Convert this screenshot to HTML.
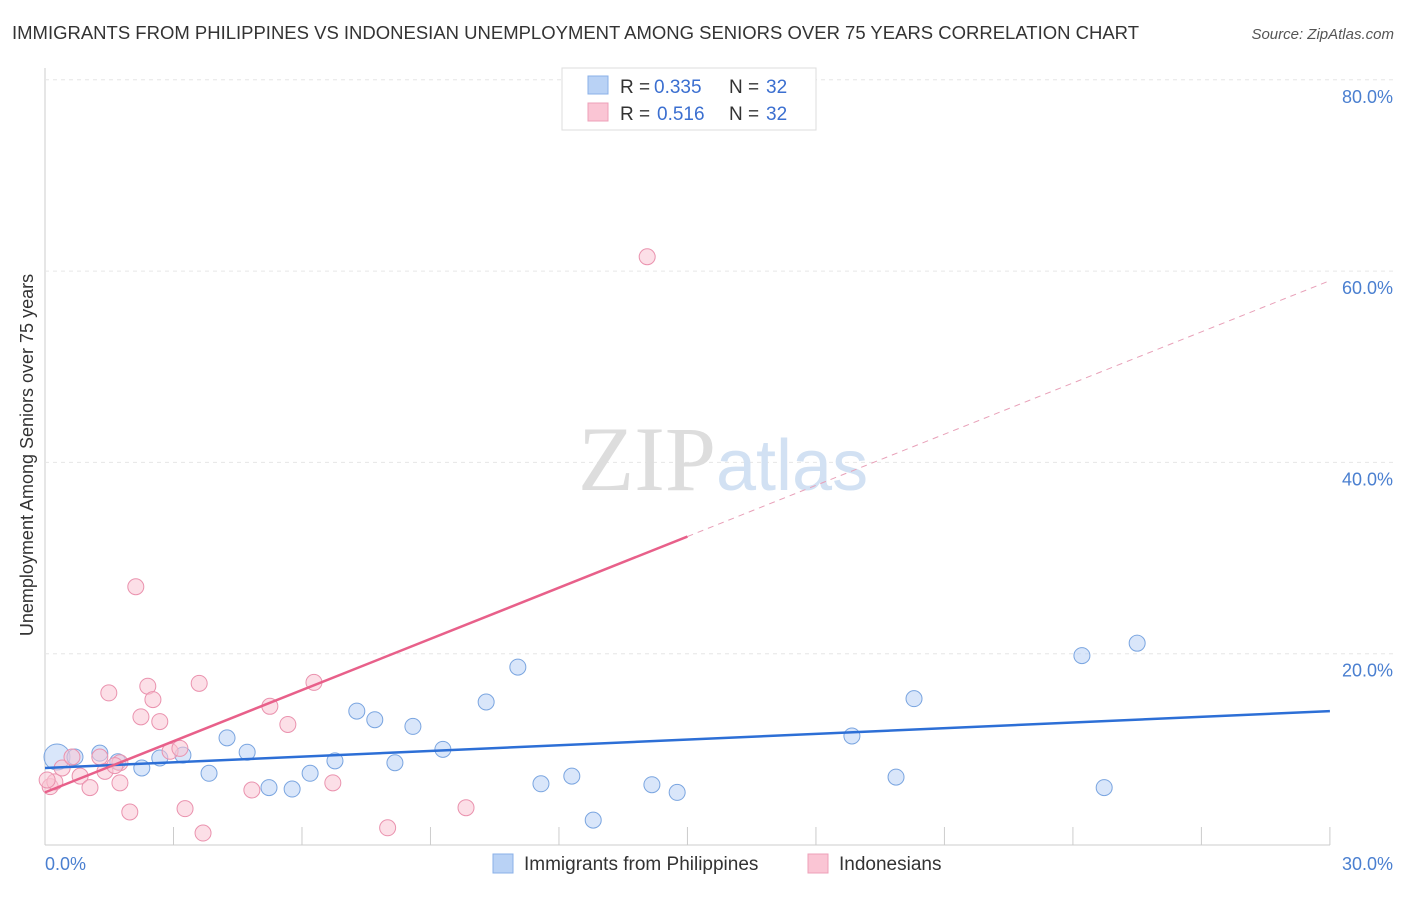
<!DOCTYPE html>
<html><head><meta charset="utf-8"><style>
body{margin:0;background:#fff;font-family:"Liberation Sans",sans-serif;}
</style></head><body>
<svg width="1406" height="892" xmlns="http://www.w3.org/2000/svg" font-family="Liberation Sans, sans-serif">
<text x="12" y="39" font-size="18" fill="#333" textLength="1127" lengthAdjust="spacingAndGlyphs">IMMIGRANTS FROM PHILIPPINES VS INDONESIAN UNEMPLOYMENT AMONG SENIORS OVER 75 YEARS CORRELATION CHART</text>
<text x="1394" y="39" font-size="15" fill="#555" font-style="italic" text-anchor="end">Source: ZipAtlas.com</text>
<g id="grid"></g>
<text x="716" y="490" font-size="92" fill="#ddd" text-anchor="end" font-family="Liberation Serif, serif">ZIP</text>
<text x="716" y="490" font-size="72" fill="#d2e1f3">atlas</text>
<g id="marks"></g>
<text transform="translate(33,455) rotate(-90)" font-size="18" fill="#333" text-anchor="middle">Unemployment Among Seniors over 75 years</text>
<text x="45" y="870" font-size="18" fill="#4a7fd0">0.0%</text>
<text x="1393" y="870" font-size="18" fill="#4a7fd0" text-anchor="end">30.0%</text>
<g>
<rect x="562" y="68" width="254" height="62" fill="#fff" stroke="#ddd"/>
<rect x="588" y="76" width="20" height="18" fill="#b9d2f5" stroke="#8ab0e8"/>
<rect x="588" y="103" width="20" height="18" fill="#fac5d4" stroke="#eea0b8"/>
<text x="620" y="93" font-size="19" fill="#333">R =</text>
<text x="654" y="93" font-size="19" fill="#3b6fd0">0.335</text>
<text x="729" y="93" font-size="19" fill="#333">N =</text>
<text x="766" y="93" font-size="19" fill="#3b6fd0">32</text>
<text x="620" y="120" font-size="19" fill="#333">R =</text>
<text x="657" y="120" font-size="19" fill="#3b6fd0">0.516</text>
<text x="729" y="120" font-size="19" fill="#333">N =</text>
<text x="766" y="120" font-size="19" fill="#3b6fd0">32</text>
</g>
<g>
<rect x="493" y="854" width="20" height="19" fill="#b9d2f5" stroke="#8ab0e8"/>
<text x="524" y="870" font-size="19" fill="#333">Immigrants from Philippines</text>
<rect x="808" y="854" width="20" height="19" fill="#fac5d4" stroke="#eea0b8"/>
<text x="839" y="870" font-size="19" fill="#333">Indonesians</text>
</g>
</svg>
<script>
const yTicks=[20,40,60,80];
const xTicks=[3,6,9,12,15,18,21,24,27,30];
const blueX=[0.28,0.7,1.28,1.7,2.26,2.68,3.22,3.83,4.25,4.72,5.23,5.77,6.19,6.77,7.28,7.7,8.17,8.59,9.29,10.3,11.04,11.58,12.3,12.8,14.17,14.76,18.84,19.87,20.29,24.21,24.73,25.5];
const blueY=[9.2,9.2,9.6,8.7,8.05,9.1,9.4,7.5,11.2,9.7,6.0,5.85,7.5,8.8,14.0,13.1,8.6,12.4,10.0,14.95,18.6,6.4,7.2,2.6,6.3,5.5,11.4,7.1,15.3,19.8,6.0,21.1];
const pinkX=[0.12,0.23,0.4,0.82,1.05,1.4,1.28,1.49,1.75,1.75,1.98,2.12,2.24,2.4,2.52,2.68,2.92,3.15,3.27,3.6,3.69,4.83,5.25,5.67,6.28,6.72,8.0,9.83,14.06,0.63,1.63,0.05];
const pinkY=[6.1,6.6,8.05,7.2,6.0,7.7,9.2,15.9,8.6,6.5,3.45,27.0,13.4,16.6,15.2,12.9,9.8,10.1,3.8,16.9,1.25,5.75,14.5,12.6,17.0,6.5,1.8,3.9,61.5,9.2,8.3,6.8];
const blueLine=[8.05,14.0];
const pinkLine=[5.5,59.0];
const X=v=>45+v*42.83, Y=v=>845-v*9.565;
const NS='http://www.w3.org/2000/svg';
const grid=document.getElementById('grid'), marks=document.getElementById('marks');
function mk(p,tag,a){const e=document.createElementNS(NS,tag);for(const k in a)e.setAttribute(k,a[k]);p.appendChild(e);return e;}
let ax=mk(grid,'line',{x1:45,y1:68,x2:45,y2:845,stroke:'#ccc'});


let bx=mk(grid,'line',{x1:45,y1:845,x2:1330,y2:845,stroke:'#ccc'});


yTicks.forEach(t=>{
 let l=mk(grid,'line',{x1:45,y1:Y(t),x2:1393,y2:Y(t),stroke:'#e6e6e6','stroke-dasharray':'4,4'});
 
 
 let tx=mk(grid,'text',{x:1393,y:Y(t)+23,'font-size':18,fill:'#4a7fd0','text-anchor':'end'});
 tx.textContent=t.toFixed(1)+'%';
 
 
});
xTicks.forEach(t=>{
 let l=mk(grid,'line',{x1:X(t),y1:827,x2:X(t),y2:845,stroke:'#ccc'});
 
 
});
function pts(xs,ys,fill,stroke,name){
 xs.forEach((x,i)=>{
  let r=(name==='blue-point'&&i===0)?13:8;
  let c=mk(marks,'circle',{cx:X(x),cy:Y(ys[i]),r:r,fill:fill,stroke:stroke,'stroke-width':1,'fill-opacity':0.55});
  
  
 });
}
pts(blueX,blueY,'#b9d2f5','#7aa5e0','blue-point');
pts(pinkX,pinkY,'#fac5d4','#ea92ae','pink-point');
let bl=mk(marks,'line',{x1:X(0),y1:Y(blueLine[0]),x2:X(30),y2:Y(blueLine[1]),stroke:'#2d6fd6','stroke-width':2.5});


const pm=v=>pinkLine[0]+(pinkLine[1]-pinkLine[0])*v/30;
let pl=mk(marks,'line',{x1:X(0),y1:Y(pm(0)),x2:X(15),y2:Y(pm(15)),stroke:'#e8608a','stroke-width':2.5});


let pd=mk(marks,'line',{x1:X(15),y1:Y(pm(15)),x2:X(30),y2:Y(pm(30)),stroke:'#e8a0b8','stroke-width':1,'stroke-dasharray':'6,5'});


</script>
</body></html>
